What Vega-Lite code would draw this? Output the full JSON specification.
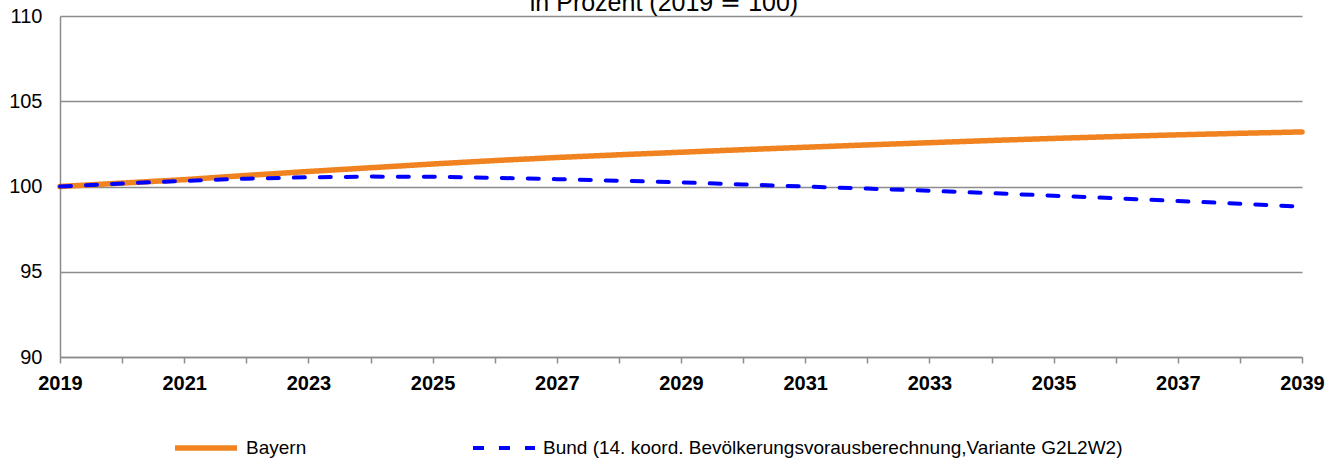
{
  "$schema": "https://vega.github.io/schema/vega-lite/v6.json",
  "width": 1242,
  "height": 341,
  "autosize": {"type": "none"},
  "padding": {"left": 60, "top": 16, "right": 40, "bottom": 104},
  "background": "white",
  "title": {
    "text": "in Prozent (2019 ≙ 100)",
    "font": "Liberation Sans",
    "fontSize": 25,
    "fontWeight": "normal",
    "color": "black",
    "anchor": "middle",
    "baseline": "alphabetic",
    "offset": -30,
    "dx": -17
  },
  "config": {
    "view": {"stroke": null},
    "font": "Liberation Sans"
  },
  "data": {
    "values": [
      {"Jahr": 2019, "Wert": 100.0, "Reihe": "Bayern"},
      {"Jahr": 2020, "Wert": 100.2, "Reihe": "Bayern"},
      {"Jahr": 2021, "Wert": 100.4, "Reihe": "Bayern"},
      {"Jahr": 2022, "Wert": 100.65, "Reihe": "Bayern"},
      {"Jahr": 2023, "Wert": 100.88, "Reihe": "Bayern"},
      {"Jahr": 2024, "Wert": 101.1, "Reihe": "Bayern"},
      {"Jahr": 2025, "Wert": 101.32, "Reihe": "Bayern"},
      {"Jahr": 2026, "Wert": 101.52, "Reihe": "Bayern"},
      {"Jahr": 2027, "Wert": 101.7, "Reihe": "Bayern"},
      {"Jahr": 2028, "Wert": 101.86, "Reihe": "Bayern"},
      {"Jahr": 2029, "Wert": 102.01, "Reihe": "Bayern"},
      {"Jahr": 2030, "Wert": 102.16, "Reihe": "Bayern"},
      {"Jahr": 2031, "Wert": 102.3, "Reihe": "Bayern"},
      {"Jahr": 2032, "Wert": 102.44, "Reihe": "Bayern"},
      {"Jahr": 2033, "Wert": 102.57, "Reihe": "Bayern"},
      {"Jahr": 2034, "Wert": 102.7, "Reihe": "Bayern"},
      {"Jahr": 2035, "Wert": 102.82, "Reihe": "Bayern"},
      {"Jahr": 2036, "Wert": 102.93, "Reihe": "Bayern"},
      {"Jahr": 2037, "Wert": 103.03, "Reihe": "Bayern"},
      {"Jahr": 2038, "Wert": 103.12, "Reihe": "Bayern"},
      {"Jahr": 2039, "Wert": 103.2, "Reihe": "Bayern"},
      {"Jahr": 2019, "Wert": 100.0, "Reihe": "Bund (14. koord. Bevölkerungsvorausberechnung,Variante G2L2W2)"},
      {"Jahr": 2020, "Wert": 100.18, "Reihe": "Bund (14. koord. Bevölkerungsvorausberechnung,Variante G2L2W2)"},
      {"Jahr": 2021, "Wert": 100.33, "Reihe": "Bund (14. koord. Bevölkerungsvorausberechnung,Variante G2L2W2)"},
      {"Jahr": 2022, "Wert": 100.46, "Reihe": "Bund (14. koord. Bevölkerungsvorausberechnung,Variante G2L2W2)"},
      {"Jahr": 2023, "Wert": 100.54, "Reihe": "Bund (14. koord. Bevölkerungsvorausberechnung,Variante G2L2W2)"},
      {"Jahr": 2024, "Wert": 100.58, "Reihe": "Bund (14. koord. Bevölkerungsvorausberechnung,Variante G2L2W2)"},
      {"Jahr": 2025, "Wert": 100.57, "Reihe": "Bund (14. koord. Bevölkerungsvorausberechnung,Variante G2L2W2)"},
      {"Jahr": 2026, "Wert": 100.51, "Reihe": "Bund (14. koord. Bevölkerungsvorausberechnung,Variante G2L2W2)"},
      {"Jahr": 2027, "Wert": 100.43, "Reihe": "Bund (14. koord. Bevölkerungsvorausberechnung,Variante G2L2W2)"},
      {"Jahr": 2028, "Wert": 100.34, "Reihe": "Bund (14. koord. Bevölkerungsvorausberechnung,Variante G2L2W2)"},
      {"Jahr": 2029, "Wert": 100.24, "Reihe": "Bund (14. koord. Bevölkerungsvorausberechnung,Variante G2L2W2)"},
      {"Jahr": 2030, "Wert": 100.12, "Reihe": "Bund (14. koord. Bevölkerungsvorausberechnung,Variante G2L2W2)"},
      {"Jahr": 2031, "Wert": 100.0, "Reihe": "Bund (14. koord. Bevölkerungsvorausberechnung,Variante G2L2W2)"},
      {"Jahr": 2032, "Wert": 99.88, "Reihe": "Bund (14. koord. Bevölkerungsvorausberechnung,Variante G2L2W2)"},
      {"Jahr": 2033, "Wert": 99.75, "Reihe": "Bund (14. koord. Bevölkerungsvorausberechnung,Variante G2L2W2)"},
      {"Jahr": 2034, "Wert": 99.61, "Reihe": "Bund (14. koord. Bevölkerungsvorausberechnung,Variante G2L2W2)"},
      {"Jahr": 2035, "Wert": 99.46, "Reihe": "Bund (14. koord. Bevölkerungsvorausberechnung,Variante G2L2W2)"},
      {"Jahr": 2036, "Wert": 99.31, "Reihe": "Bund (14. koord. Bevölkerungsvorausberechnung,Variante G2L2W2)"},
      {"Jahr": 2037, "Wert": 99.15, "Reihe": "Bund (14. koord. Bevölkerungsvorausberechnung,Variante G2L2W2)"},
      {"Jahr": 2038, "Wert": 98.99, "Reihe": "Bund (14. koord. Bevölkerungsvorausberechnung,Variante G2L2W2)"},
      {"Jahr": 2039, "Wert": 98.82, "Reihe": "Bund (14. koord. Bevölkerungsvorausberechnung,Variante G2L2W2)"}
    ]
  },
  "mark": {"type": "line", "strokeCap": "round", "strokeJoin": "round"},
  "encoding": {
    "x": {
      "field": "Jahr",
      "type": "quantitative",
      "scale": {"domain": [2019, 2039], "nice": false, "zero": false},
      "axis": {
        "title": null,
        "values": [2019,2020,2021,2022,2023,2024,2025,2026,2027,2028,2029,2030,2031,2032,2033,2034,2035,2036,2037,2038,2039],
        "labelExpr": "(datum.value - 2019) % 2 == 0 ? datum.value : ''",
        "labelFont": "Liberation Sans",
        "labelFontSize": 20,
        "labelFontWeight": "bold",
        "labelColor": "black",
        "labelPadding": 10,
        "labelFlush": false,
        "labelOverlap": false,
        "grid": false,
        "ticks": true,
        "tickSize": 6,
        "tickColor": "#8c8c8c",
        "tickWidth": 1.5,
        "domainColor": "#8c8c8c",
        "domainWidth": 1.5
      }
    },
    "y": {
      "field": "Wert",
      "type": "quantitative",
      "scale": {"domain": [90, 110], "nice": false, "zero": false},
      "axis": {
        "title": null,
        "values": [90, 95, 100, 105, 110],
        "labelFont": "Liberation Sans",
        "labelFontSize": 20,
        "labelColor": "black",
        "labelPadding": 18,
        "ticks": false,
        "grid": true,
        "gridColor": "#8c8c8c",
        "gridWidth": 1.5,
        "domainColor": "#8c8c8c",
        "domainWidth": 1.5
      }
    },
    "color": {
      "field": "Reihe",
      "type": "nominal",
      "scale": {"range": ["#F08220", "#0000FF"]},
      "legend": {
        "title": null,
        "orient": "none",
        "direction": "horizontal",
        "legendX": 112,
        "legendY": 398,
        "padding": 0,
        "symbolType": "stroke",
        "symbolSize": 3844,
        "symbolStrokeWidth": 5,
        "labelFont": "Liberation Sans",
        "labelFontSize": 19,
        "labelColor": "black",
        "labelOffset": 6,
        "labelLimit": 800,
        "columnPadding": 158
      }
    },
    "strokeDash": {
      "field": "Reihe",
      "type": "nominal",
      "scale": {"range": [[1, 0], [11, 15]]},
      "legend": null
    },
    "strokeWidth": {
      "field": "Reihe",
      "type": "nominal",
      "scale": {"range": [5.5, 4]},
      "legend": null
    }
  }
}
